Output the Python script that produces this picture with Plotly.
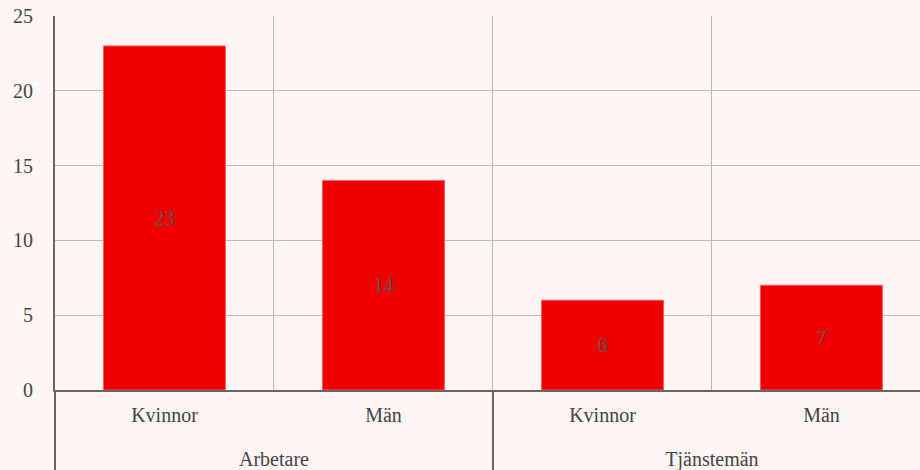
import plotly.graph_objects as go

# Data
groups = ["Arbetare", "Arbetare", "Tjänstemän", "Tjänstemän"]
genders = ["Kvinnor", "Män", "Kvinnor", "Män"]
values = [23, 14, 6, 7]

BG = "#fff5f5"
FONT = "Liberation Serif, Times New Roman, serif"

# extra blank line pushes the group row further down
gender_labels = [g + "<br> " for g in genders]

fig = go.Figure()
fig.add_trace(
    go.Bar(
        x=[groups, gender_labels],
        y=values,
        text=values,
        textposition="inside",
        insidetextanchor="middle",
        textfont=dict(color="#555555", size=20, family=FONT),
        marker=dict(color="#f00000", line=dict(color="#ff5a5a", width=1)),
        width=0.557,
    )
)

fig.update_layout(
    width=920,
    height=470,
    margin=dict(l=55, r=0, t=16, b=80),
    paper_bgcolor=BG,
    plot_bgcolor=BG,
    font=dict(family=FONT, size=20, color="#444444"),
    showlegend=False,
    uniformtext=dict(mode="show", minsize=20),
)

fig.update_xaxes(
    type="multicategory",
    range=[-0.5, 3.45],
    tickson="boundaries",
    showgrid=True,
    gridcolor="#bbbbbb",
    gridwidth=1,
    showline=True,
    linecolor="#666666",
    linewidth=2,
    showdividers=True,
    dividercolor="#666666",
    dividerwidth=2,
    ticks="",
    ticklabelstandoff=6,
    tickfont=dict(size=20, family=FONT, color="#444444"),
)
fig.update_yaxes(
    range=[0, 25],
    dtick=5,
    showgrid=True,
    gridcolor="#bbbbbb",
    gridwidth=1,
    showline=True,
    linecolor="#666666",
    linewidth=2,
    zeroline=False,
    ticks="",
    ticklabelstandoff=16,
    ticklabeloverflow="allow",
    tickfont=dict(size=20, family=FONT, color="#444444"),
)

# page has no white border round the chart
fig.write_html(
    "out.html",
    config={"displayModeBar": False},
    post_script="document.body.style.margin='0';document.body.style.overflow='hidden';"
    "document.body.style.background='" + BG + "';",
)
